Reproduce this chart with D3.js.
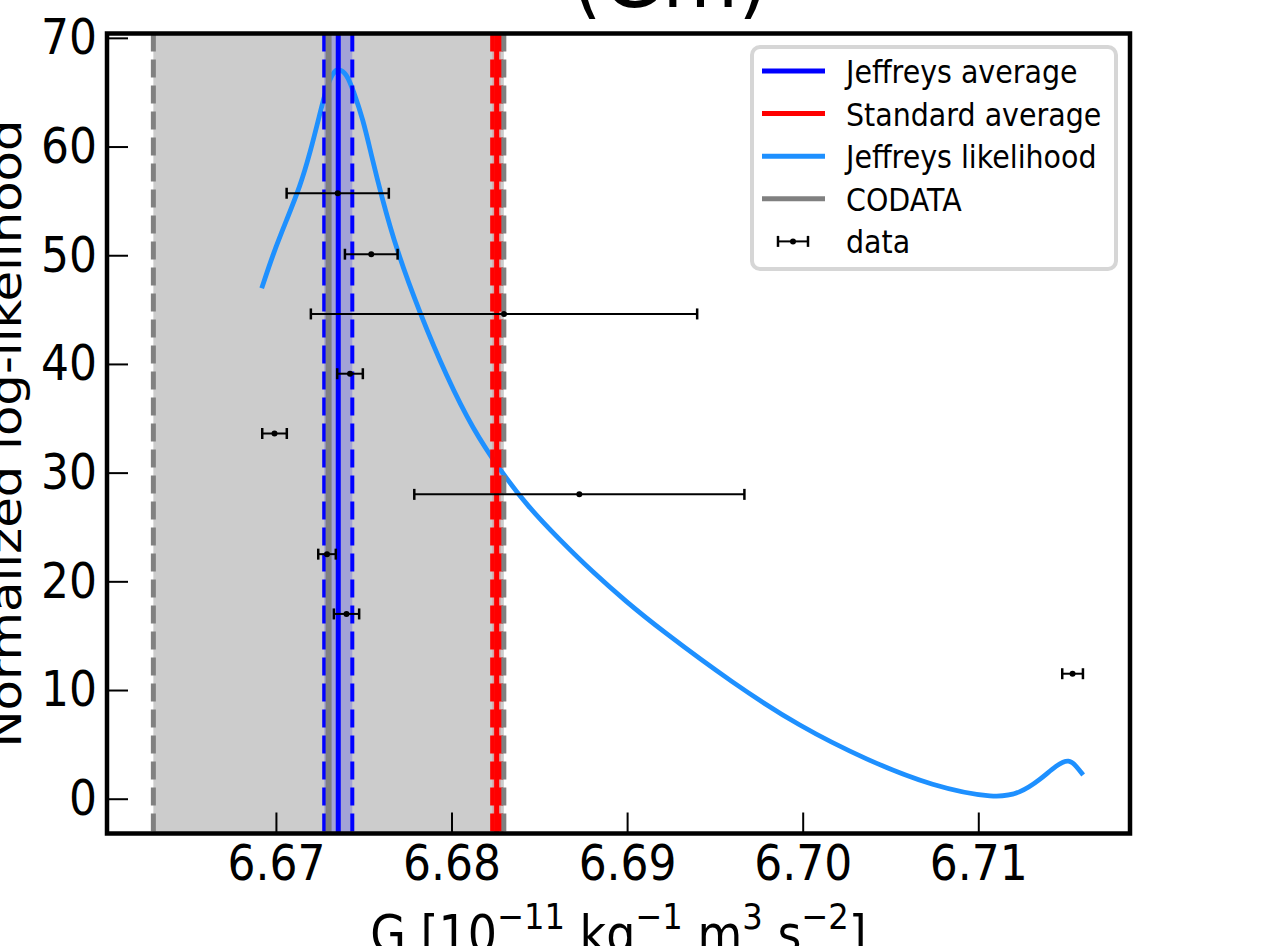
<!DOCTYPE html>
<html>
<head>
<meta charset="utf-8">
<script src="https://cdn.jsdelivr.net/npm/d3@7"></script>
<style>
  body { margin: 0; background: #fff; }
  text { font-family: "DejaVu Sans", sans-serif; fill: #000; }
</style>
</head>
<body>
<div id="chart"></div>
<script>
var width = 1273;
var height = 946;
var padL = 107, padR = 1130, padT = 33.5, padB = 833.5;
var stretch = 1.13; // picture is a bit taller than wide, text too

var xTicks = [6.67, 6.68, 6.69, 6.70, 6.71];
var yTicks = [0, 10, 20, 30, 40, 50, 60, 70];

// Jeffreys likelihood curve
var curveG = [6.66919, 6.66985, 6.67061, 6.67137, 6.67194, 6.67251, 6.67289, 6.67326, 6.67357,
  6.67403, 6.67440, 6.67497, 6.67541, 6.67602, 6.67687, 6.67820, 6.67972, 6.68124, 6.68276,
  6.68428, 6.68617, 6.68807, 6.68997, 6.69187, 6.69604, 6.69984, 6.70364, 6.70743, 6.71104,
  6.71237, 6.71351, 6.71446, 6.71518, 6.71560, 6.71597];
var curveL = [46.96, 50.18, 53.25, 56.31, 59.38, 63.06, 65.51, 66.84, 67.21,
  66.69, 65.19, 62.45, 59.38, 55.39, 50.49, 44.66, 38.83, 33.93, 30.25,
  27.00, 23.80, 20.80, 18.10, 15.60, 10.60, 6.63, 3.57, 1.11, 0.00,
  0.51, 1.73, 3.11, 3.67, 2.95, 2.19];

// measurements with error bars
var dataG = [6.67352, 6.67543, 6.68299, 6.67422, 6.66992, 6.68728, 6.67291, 6.67402, 6.71537];
var dataErr = [0.00291, 0.00150, 0.01100, 0.00073, 0.00070, 0.00940, 0.00050, 0.00072, 0.00059];
var dataY = [55.7, 50.1, 44.6, 39.1, 33.6, 28.0, 22.5, 17.0, 11.5];

var jeffreysAvg = 6.67355, jeffreysErr = 0.00080;
var standardAvg = 6.68257, standardErr = 0.00024;
var codataG = 6.67300, codataErr = 0.00998;

var legendNames = ["Jeffreys average", "Standard average", "Jeffreys likelihood", "CODATA", "data"];
var legendColors = ["#0000ff", "#ff0000", "#1e90ff", "#808080", "#000000"];

var xscale = d3.scaleLinear().domain([6.66038, 6.71864]).range([padL, padR]);
var yscale = d3.scaleLinear().domain([-3.2, 70.4]).range([padB, padT]);

var svg = d3.select("#chart")
  .append("svg")
  .attr("width", width)
  .attr("height", height);

svg.append("clipPath").attr("id", "plot-clip")
  .append("rect")
  .attr("x", padL).attr("y", padT)
  .attr("width", padR - padL).attr("height", padB - padT);

var plot = svg.append("g").attr("clip-path", "url(#plot-clip)");

// shaded bands
function band(center, err, color, opacity) {
  plot.append("rect")
    .attr("x", xscale(center - err))
    .attr("y", padT)
    .attr("width", xscale(center + err) - xscale(center - err))
    .attr("height", padB - padT)
    .attr("fill", color)
    .attr("fill-opacity", opacity);
}
band(codataG, codataErr, "#808080", 0.4);
band(jeffreysAvg, jeffreysErr, "#0000ff", 0.2);
band(standardAvg, standardErr, "#ff0000", 0.2);

// likelihood curve
var pts = curveG.map(function (g, i) { return [g, curveL[i]]; });
plot.append("path")
  .datum(pts)
  .attr("fill", "none")
  .attr("stroke", "#1e90ff")
  .attr("stroke-width", 4.8)
  .attr("d", d3.line()
    .x(function (d) { return xscale(d[0]); })
    .y(function (d) { return yscale(d[1]); })
    .curve(d3.curveBasis));

// vertical lines
function vline(g, color, w, dashed) {
  plot.append("line")
    .attr("x1", xscale(g)).attr("x2", xscale(g))
    .attr("y1", padT).attr("y2", padB)
    .attr("stroke", color)
    .attr("stroke-width", w)
    .attr("stroke-dasharray", dashed ? "18,8" : null);
}
vline(jeffreysAvg, "#0000ff", 5, false);
vline(jeffreysAvg - jeffreysErr, "#0000ff", 4, true);
vline(jeffreysAvg + jeffreysErr, "#0000ff", 4, true);
vline(standardAvg, "#ff0000", 5, false);
vline(standardAvg - standardErr, "#ff0000", 4.5, true);
vline(standardAvg + standardErr, "#ff0000", 4.5, true);
vline(codataG, "#808080", 6, false);
vline(codataG - codataErr, "#808080", 5, true);
vline(codataG + codataErr, "#808080", 5, true);

// error bars
var bars = plot.selectAll(".ebar").data(dataG).enter().append("g").attr("class", "ebar");
bars.append("line")
  .attr("x1", function (d, i) { return xscale(d - dataErr[i]); })
  .attr("x2", function (d, i) { return xscale(d + dataErr[i]); })
  .attr("y1", function (d, i) { return yscale(dataY[i]); })
  .attr("y2", function (d, i) { return yscale(dataY[i]); })
  .attr("stroke", "#000").attr("stroke-width", 2);
[-1, 1].forEach(function (s) {
  bars.append("line")
    .attr("x1", function (d, i) { return xscale(d + s * dataErr[i]); })
    .attr("x2", function (d, i) { return xscale(d + s * dataErr[i]); })
    .attr("y1", function (d, i) { return yscale(dataY[i]) - 5.5; })
    .attr("y2", function (d, i) { return yscale(dataY[i]) + 5.5; })
    .attr("stroke", "#000").attr("stroke-width", 2.5);
});
bars.append("circle")
  .attr("cx", function (d) { return xscale(d); })
  .attr("cy", function (d, i) { return yscale(dataY[i]); })
  .attr("r", 3)
  .attr("fill", "#000");

// axes, ticks pointing inside
var yaxis = d3.axisLeft(yscale).tickValues(yTicks).tickSize(-21).tickPadding(10);
var ya = svg.append("g")
  .attr("transform", "translate(" + padL + ",0)")
  .call(yaxis);
var xaxis = d3.axisBottom(xscale).tickValues(xTicks).tickFormat(d3.format(".2f")).tickSize(-21).tickPadding(10);
var xa = svg.append("g")
  .attr("transform", "translate(0," + padB + ")")
  .call(xaxis);
[ya, xa].forEach(function (a) {
  a.select(".domain").remove();
  a.selectAll(".tick line").attr("stroke", "#000").attr("stroke-width", 2);
  a.selectAll(".tick text")
    .attr("font-size", 44)
    .attr("font-family", "DejaVu Sans")
    .attr("fill", "#000")
    .attr("transform", "scale(1," + stretch + ")");
});

// frame
svg.append("rect")
  .attr("x", padL).attr("y", padT)
  .attr("width", padR - padL).attr("height", padB - padT)
  .attr("fill", "none")
  .attr("stroke", "#000")
  .attr("stroke-width", 4.5);

// axis labels and title
var xl = svg.append("text")
  .attr("transform", "translate(" + ((padL + padR) / 2) + ",952) scale(1," + stretch + ")")
  .attr("text-anchor", "middle")
  .attr("font-size", 46);
function part(t, txt, sup) {
  t.append("tspan")
    .attr("font-size", sup === 1 ? "0.7em" : null)
    .attr("dy", sup === 1 ? "-0.62em" : (sup === -1 ? "0.434em" : null))
    .text(txt);
}
part(xl, "G [10");
part(xl, "\u221211", 1);
part(xl, " kg", -1);
part(xl, "\u22121", 1);
part(xl, " m", -1);
part(xl, "3", 1);
part(xl, " s", -1);
part(xl, "\u22122", 1);
part(xl, "]", -1);

svg.append("text")
  .attr("transform", "translate(21," + ((padT + padB) / 2) + ") rotate(-90) scale(" + stretch + ",1)")
  .attr("text-anchor", "middle")
  .attr("font-size", 44)
  .text("Normalized log-likelihood");

svg.append("text")
  .attr("transform", "translate(670,7) scale(1," + stretch + ")")
  .attr("text-anchor", "middle")
  .attr("font-size", 78)
  .text("(Gm)");

// legend
var lg = svg.append("g");
lg.append("rect")
  .attr("x", 752).attr("y", 47)
  .attr("width", 364).attr("height", 222)
  .attr("rx", 8)
  .attr("fill", "#fff")
  .attr("stroke", "#d6d6d6")
  .attr("stroke-width", 4);
legendNames.forEach(function (name, i) {
  var cy = 71 + i * 42.6;
  if (name === "data") {
    lg.append("line").attr("x1", 778).attr("x2", 808).attr("y1", cy).attr("y2", cy)
      .attr("stroke", "#000").attr("stroke-width", 2);
    [778, 808].forEach(function (cx) {
      lg.append("line").attr("x1", cx).attr("x2", cx).attr("y1", cy - 5.5).attr("y2", cy + 5.5)
        .attr("stroke", "#000").attr("stroke-width", 2.5);
    });
    lg.append("circle").attr("cx", 793).attr("cy", cy).attr("r", 3).attr("fill", "#000");
  } else {
    lg.append("line").attr("x1", 762).attr("x2", 825).attr("y1", cy).attr("y2", cy)
      .attr("stroke", legendColors[i]).attr("stroke-width", 5);
  }
  lg.append("text")
    .attr("transform", "translate(846," + (cy + 12) + ") scale(1," + stretch + ")")
    .attr("font-size", 28.5)
    .text(name);
});
</script>
</body>
</html>
